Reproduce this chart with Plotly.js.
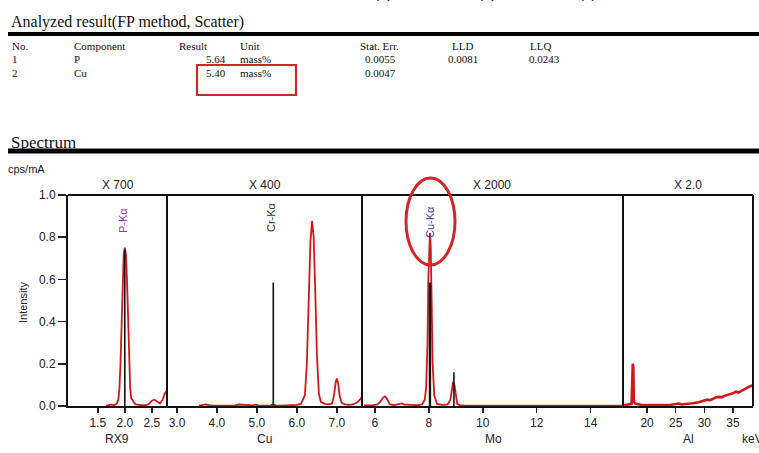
<!DOCTYPE html>
<html>
<head>
<meta charset="utf-8">
<script src="https://cdn.plot.ly/plotly-3.0.1.min.js"></script>
<style>html,body{margin:0;padding:0;background:#fff;}#chart{width:759px;height:453px;}</style>
</head>
<body>
<div id="chart"></div>
<script>
// ---- Data ----
// Panel 1 (RX9 filter, x700)
const p1X = [1.65,1.70,1.75,1.80,1.85,1.88,1.90,1.92,1.94,1.96,1.98,2.00,2.02,2.04,2.06,2.08,2.10,2.12,2.14,2.16,2.20,2.30,2.40,2.45,2.50,2.55,2.60,2.65,2.70,2.74,2.78];
const p1Y = [0.002,0.004,0.006,0.004,0.010,0.030,0.080,0.200,0.400,0.600,0.720,0.750,0.720,0.600,0.420,0.220,0.080,0.035,0.030,0.020,0.008,0.004,0.004,0.010,0.025,0.030,0.020,0.012,0.030,0.060,0.070];
// Panel 2 (Cu filter, x400)
const p2X = [3.55,3.65,3.72,3.80,3.90,4.20,4.45,4.55,4.65,4.75,4.90,4.97,5.05,5.20,5.35,5.41,5.47,5.60,5.80,6.00,6.10,6.20,6.25,6.30,6.34,6.38,6.42,6.46,6.50,6.55,6.60,6.70,6.80,6.88,6.93,6.97,7.00,7.03,7.07,7.12,7.20,7.30,7.40,7.50,7.58,7.63];
const p2Y = [0.002,0.006,0.008,0.004,0.002,0.002,0.003,0.007,0.006,0.003,0.003,0.006,0.002,0.002,0.003,0.008,0.003,0.002,0.003,0.005,0.010,0.050,0.200,0.500,0.780,0.876,0.800,0.550,0.250,0.060,0.020,0.010,0.008,0.012,0.050,0.110,0.130,0.110,0.050,0.015,0.008,0.006,0.008,0.015,0.030,0.045];
// Panel 3 (Mo filter, x2000)
const p3X = [5.60,5.90,6.10,6.20,6.30,6.37,6.44,6.55,6.70,6.90,7.00,7.10,7.30,7.60,7.75,7.85,7.90,7.95,7.98,8.01,8.04,8.07,8.10,8.14,8.20,8.30,8.50,8.70,8.80,8.85,8.90,8.95,9.00,9.05,9.15,9.30,10.0,11.0,12.0,13.0,14.0,15.2];
const p3Y = [0.003,0.003,0.008,0.020,0.040,0.045,0.035,0.008,0.004,0.008,0.012,0.006,0.004,0.004,0.008,0.030,0.090,0.300,0.600,0.800,0.820,0.750,0.500,0.200,0.050,0.010,0.005,0.008,0.030,0.080,0.115,0.100,0.040,0.010,0.004,0.003,0.002,0.002,0.002,0.002,0.002,0.002];
// Panel 4 (Al filter, x2.0)
const p4X = [16.0,16.5,17.0,17.3,17.4,17.5,17.6,17.7,18.0,18.5,19,20,21,22,23,24,25,25.5,26,27,28,29,30,30.5,31,31.5,32,32.5,33,33.5,34,34.5,35,35.5,36,36.5,37,37.5,38,38.5];
const p4Y = [0.003,0.005,0.006,0.010,0.100,0.200,0.190,0.020,0.010,0.008,0.005,0.004,0.003,0.004,0.004,0.005,0.008,0.012,0.007,0.009,0.013,0.018,0.026,0.030,0.028,0.036,0.040,0.043,0.041,0.048,0.052,0.056,0.060,0.068,0.064,0.072,0.080,0.086,0.094,0.098];
// Black reference lines (x position, height) and their panel axis
const refX = [2.00, 5.41, 8.04, 8.93];
const refH = [0.740, 0.585, 0.585, 0.160];
const refAxis = ['x', 'x2', 'x3', 'x3'];
// Axis ranges and ticks
const ranges = [[0.95,2.78],[2.75,7.63],[5.52,15.2],[15.8,38.5]];
const tickVals = [[1.5,2.0,2.5],[3,4,5,6,7],[6,8,10,12,14],[20,25,30,35]];
const tickText = [['1.5','2.0','2.5'],['3.0','4.0','5.0','6.0','7.0'],['6','8','10','12','14'],['20','25','30','35']];
const filters = ['RX9','Cu','Mo','Al'];
const gains = ['X 700','X 400','X 2000','X 2.0'];
const yTicks = [0,0.2,0.4,0.6,0.8,1.0];
const yTickText = ['0.0','0.2','0.4','0.6','0.8','1.0'];
const lineLabels = ['P-Kα','Cr-Kα','Cu-Kα'];
// Table
const header = ['No.','Component','Result','Unit','Stat. Err.','LLD','LLQ'];
const row1 = ['1','P','5.64','mass%','0.0055','0.0081','0.0243'];
const row2 = ['2','Cu','5.40','mass%','0.0047','',''];

// ---- Layout helpers (pixel -> paper) ----
const L = 68, R = 753, T = 195, B = 406;
const W = R - L, H = B - T;
const X = p => (p - L) / W;
const Y = p => (B - p) / H;
const sepPx = [68, 167, 362, 623, 753];
const domains = [];
for (let i = 0; i < 4; i++) domains.push([X(sepPx[i]), X(sepPx[i+1])]);

const red = '#d01818';
const traces = [];
const px = [p1X,p2X,p3X,p4X], py = [p1Y,p2Y,p3Y,p4Y];
const axNames = ['x','x2','x3','x4'];
for (let i = 0; i < 4; i++) {
  traces.push({x: px[i], y: py[i], xaxis: axNames[i], yaxis: 'y', type: 'scatter', mode: 'lines',
    line: {color: red, width: i === 3 ? 2.6 : 1.8}, hoverinfo: 'skip'});
}
for (let i = 0; i < refX.length; i++) {
  traces.push({x: [refX[i], refX[i]], y: [0, refH[i]], xaxis: refAxis[i], yaxis: 'y', type: 'scatter', mode: 'lines',
    line: {color: '#111', width: i === 2 ? 2.4 : 1.6}, hoverinfo: 'skip'});
}

const tickFont = {family: 'Liberation Sans, Arial, sans-serif', size: 12, color: '#222'};
const layout = {
  width: 759, height: 453,
  margin: {l: L, r: 759 - R, t: T, b: 453 - B},
  paper_bgcolor: '#fff', plot_bgcolor: '#fff',
  showlegend: false,
  yaxis: {range: [0, 1.0], tickvals: yTicks, ticktext: yTickText, ticks: 'outside', ticklen: 8, tickwidth: 1.5,
    tickcolor: '#222', showline: true, linewidth: 2, linecolor: '#111', showgrid: false, zeroline: false,
    anchor: 'x', tickfont: tickFont, fixedrange: true},
  shapes: [], annotations: []
};
for (let i = 0; i < 4; i++) {
  const key = i === 0 ? 'xaxis' : 'xaxis' + (i + 1);
  layout[key] = {domain: domains[i], range: ranges[i], anchor: 'y', tickvals: tickVals[i], ticktext: tickText[i],
    ticks: 'outside', ticklen: 5, tickwidth: 1.5, tickcolor: '#222', showline: true, linewidth: 2, linecolor: '#111',
    showgrid: false, zeroline: false, tickfont: tickFont, fixedrange: true};
}
// Frame: top line and panel separators
layout.shapes.push({type: 'line', xref: 'paper', yref: 'paper', x0: 0, x1: 1, y0: 1, y1: 1, line: {color: '#111', width: 2}});
for (let i = 1; i < 5; i++) {
  layout.shapes.push({type: 'line', xref: 'paper', yref: 'paper', x0: X(sepPx[i]), x1: X(sepPx[i]), y0: 0, y1: 1, line: {color: '#111', width: 2}});
}
// Section underlines
layout.shapes.push({type: 'line', xref: 'paper', yref: 'paper', x0: X(8), x1: X(762), y0: Y(34), y1: Y(34), line: {color: '#000', width: 4}});
layout.shapes.push({type: 'line', xref: 'paper', yref: 'paper', x0: X(8), x1: X(762), y0: Y(151), y1: Y(151), line: {color: '#000', width: 5}});
// Red highlight box and ellipse
layout.shapes.push({type: 'rect', xref: 'paper', yref: 'paper', x0: X(197), x1: X(296), y0: Y(65), y1: Y(95), line: {color: '#d42626', width: 2.2}});
layout.shapes.push({type: 'circle', xref: 'paper', yref: 'paper', x0: X(406), x1: X(455), y0: Y(178), y1: Y(265), line: {color: '#d42626', width: 3}});

function ann(text, x, y, opts) {
  layout.annotations.push(Object.assign({text: text, xref: 'paper', yref: 'paper', x: X(x), y: Y(y), showarrow: false,
    xanchor: 'left', yanchor: 'middle', font: {family: 'Liberation Sans, Arial, sans-serif', size: 12, color: '#222'}}, opts || {}));
}
const serif = {family: 'Liberation Serif, Times New Roman, serif', size: 11, color: '#111'};
// Cropped caption at very top
const capFont = {family: 'Liberation Sans, Arial, sans-serif', size: 15, color: '#111'};
ann('(a),', 372, 0, {yanchor: 'bottom', font: capFont, yshift: -3});
ann('(b),', 476, 0, {yanchor: 'bottom', font: capFont, yshift: -3});
ann('(c)', 577, 0, {yanchor: 'bottom', font: capFont, yshift: -3});
// Titles
ann('Analyzed result(FP method, Scatter)', 9, 22, {font: {family: 'Liberation Serif, Times New Roman, serif', size: 16, color: '#111'}});
ann('Spectrum', 9, 142, {font: {family: 'Liberation Serif, Times New Roman, serif', size: 17, color: '#111'}});
// Table
const colX = [10, 72, 177, 238, 358, 450, 528];
const rightX = [null, null, 228, null, 398, 480, 562];
const rowY = [46, 59, 73];
[header, row1, row2].forEach((row, r) => {
  row.forEach((t, i) => {
    if (!t) return;
    if (r > 0 && rightX[i] !== null) ann(t, rightX[i], rowY[r], {font: serif, xanchor: 'right'});
    else ann(t, colX[i], rowY[r], {font: serif});
  });
});
// Axis texts
ann('cps/mA', 6, 169, {font: {family: 'Liberation Sans, Arial, sans-serif', size: 11, color: '#222'}});
ann('Intensity', 23, 303, {xanchor: 'center', textangle: -90, font: {family: 'Liberation Sans, Arial, sans-serif', size: 11, color: '#222'}});
const gainX = [118, 265, 492, 688];
const filtX = [117, 264, 493, 688];
for (let i = 0; i < 4; i++) {
  ann(gains[i], gainX[i], 185, {xanchor: 'center'});
  ann(filters[i], filtX[i], 439, {xanchor: 'center'});
}
ann('keV', 740, 439);
// Line labels
ann(lineLabels[0], 123, 221, {xanchor: 'center', textangle: -90, font: {family: 'Liberation Sans, Arial, sans-serif', size: 11, color: '#9a35c4'}});
ann(lineLabels[1], 271, 217, {xanchor: 'center', textangle: -90, font: {family: 'Liberation Sans, Arial, sans-serif', size: 11, color: '#333'}});
ann(lineLabels[2], 430, 222, {xanchor: 'center', textangle: -90, font: {family: 'Liberation Sans, Arial, sans-serif', size: 11, color: '#3b3bb3'}});

Plotly.newPlot('chart', traces, layout, {displayModeBar: false, staticPlot: true});
</script>
</body>
</html>
